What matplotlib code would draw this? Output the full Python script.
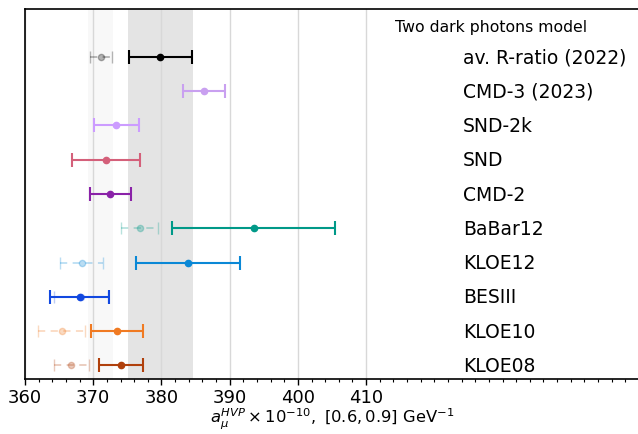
import matplotlib
matplotlib.use("Agg")
import matplotlib.pyplot as plt
from matplotlib.ticker import MultipleLocator

labels = ["av. R-ratio (2022)", "CMD-3 (2023)", "SND-2k", "SND", "CMD-2",
          "BaBar12", "KLOE12", "BESIII", "KLOE10", "KLOE08"]
colors = ["#000000", "#c9a0f0", "#cc9cff", "#d4607a", "#8a22a8",
          "#009988", "#0a88d6", "#1248e0", "#f07a22", "#b0400c"]
# main (solid) values
main_val = [379.85, 386.2, 373.4, 371.9, 372.5, 393.5, 383.9, 368.0, 373.5, 374.1]
main_err = [4.65, 3.1, 3.3, 5.0, 3.0, 12.0, 7.65, 4.3, 3.85, 3.25]
# faint (dashed) values, None where absent
faint_val = [371.1, None, None, None, None, 376.8, 368.3, 368.2, 365.4, 366.8]
faint_err = [1.6, None, None, None, None, 2.75, 3.2, 4.0, 3.45, 2.6]

band_light = (369.2, 372.9)
band_dark = (375.1, 384.6)
xticks = [360, 370, 380, 390, 400, 410]

fig = plt.figure(figsize=(6.38, 4.35), dpi=100)
ax = fig.add_axes([25/638, 1-380/435, 614/638, 370/435])

ax.axvspan(*band_light, color="#f8f8f8", zorder=0, lw=0)
ax.axvspan(*band_dark, color="#e4e4e4", zorder=0, lw=0)
for t in xticks:
    ax.axvline(t, color="#d8d8d8", lw=1.0, zorder=0.5)

n = len(labels)
for i, lab in enumerate(labels):
    y = n - 1 - i
    c = colors[i]
    if faint_val[i] is not None:
        eb = ax.errorbar(faint_val[i], y, xerr=faint_err[i], fmt="o", color=c,
                         ms=4.5, capsize=4.5, lw=1.3, alpha=0.28, zorder=2)
        eb[-1][0].set_linestyle((0, (4, 3)))
    ax.errorbar(main_val[i], y, xerr=main_err[i], fmt="o", color=c,
                ms=4.5, capsize=4.8, capthick=1.5, lw=1.5, zorder=3)
    ax.text(424.2, y, lab, fontsize=13.5, va="center", ha="left")

ax.text(414.2, 9.88, "Two dark photons model", fontsize=11.3, va="center", ha="left")

ax.set_xlim(360, 450)
ax.set_ylim(-0.4, 10.4)
ax.set_xticks(xticks)
ax.xaxis.set_minor_locator(MultipleLocator(2))
ax.tick_params(axis="x", labelsize=13, length=4, width=1, pad=2.5)
ax.tick_params(axis="x", which="minor", length=2.5, width=0.8)
ax.set_yticks([])
ax.spines["right"].set_visible(False)
for s in ["left", "top", "bottom"]:
    ax.spines[s].set_linewidth(1.2)
ax.set_xlabel(r"$a_\mu^{HVP} \times 10^{-10},\ [0.6, 0.9]\ \mathrm{GeV}^{-1}$", fontsize=11.8, labelpad=0)

fig.savefig("out.png", dpi=100)
